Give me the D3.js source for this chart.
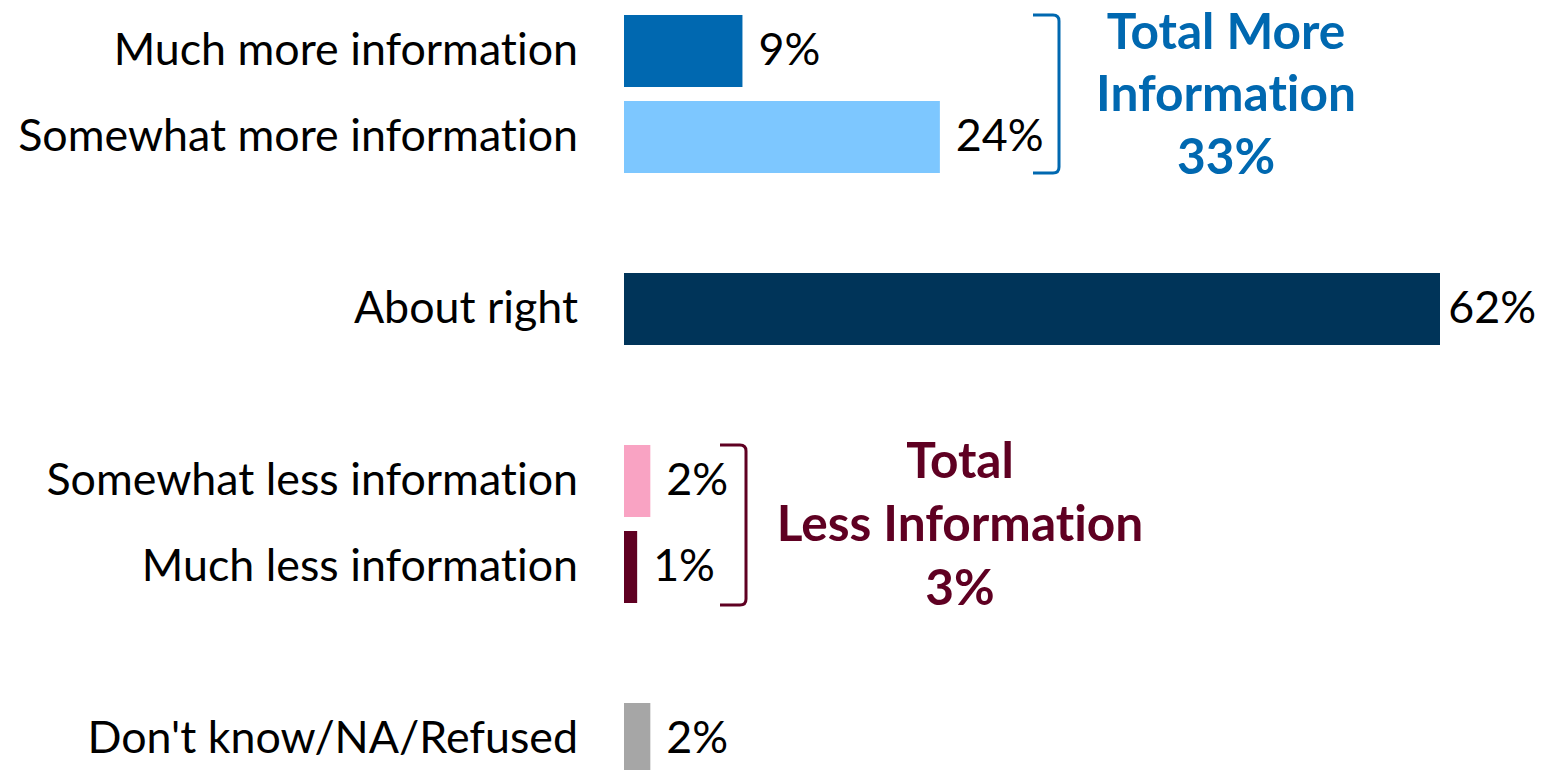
<!DOCTYPE html>
<html>
<head>
  <meta charset="utf-8">
  <script src="https://d3js.org/d3.v7.min.js"></script>
  <style type="text/css">
body { margin: 0; background: #fff; }
svg { display: block; }
text { font-variant-ligatures: none; font-feature-settings: "liga" 0; }
.label { font-family: Lato, "Open Sans", sans-serif; fill: #000; }
.total { font-family: Lato, "Open Sans", sans-serif; font-weight: bold; text-anchor: middle; }
  </style>
</head>
<body>
<script type="text/javascript">
// categories top to bottom, grouped (blank row between groups)
var categories = ["Much more information", "Somewhat more information", "About right",
                  "Somewhat less information", "Much less information", "Don't know/NA/Refused"];
var values = [9, 24, 62, 2, 1, 2];
var barColors = ["#0068b0", "#7dc7ff", "#003459", "#f9a3c3", "#5f0022", "#a6a6a6"];
var groups = [[0, 1], [2], [3, 4], [5]];

var totalMoreLines = ["Total More", "Information", "33%"];
var totalLessLines = ["Total", "Less Information", "3%"];
var blueText = "#0068b0", maroonText = "#5f0022";

var width = 1542, height = 770;

var svg = d3.select("body").append("svg")
  .attr("width", width)
  .attr("height", height);

// build row keys with spacer rows between groups
var rows = [];
groups.forEach(function(g, gi) {
  if (gi > 0) rows.push("gap" + gi);
  g.forEach(function(i) { rows.push(categories[i]); });
});

var y = d3.scaleBand()
  .domain(rows)
  .range([8, 782])
  .paddingInner(0.1628)
  .paddingOuter(0.0814);

var x = d3.scaleLinear()
  .domain([0, d3.max(values)])
  .range([624, 1440]);

var data = categories.map(function(c, i) { return {name: c, value: values[i], color: barColors[i]}; });

svg.selectAll(".bar")
  .data(data)
  .enter().append("rect")
  .attr("class", "bar")
  .attr("x", x(0))
  .attr("y", function(d) { return y(d.name); })
  .attr("width", function(d) { return x(d.value) - x(0); })
  .attr("height", y.bandwidth())
  .style("fill", function(d) { return d.color; });

// fit font size to the reference's label width
var probe = svg.append("text").attr("class", "label").style("font-size", "40px").text("Somewhat more information");
var labelSize = 40 * 560 / probe.node().getComputedTextLength();
probe.remove();

svg.selectAll(".cat")
  .data(data)
  .enter().append("text")
  .attr("class", "label cat")
  .attr("x", 578)
  .attr("y", function(d) { return y(d.name) + y.bandwidth() / 2 + 14; })
  .attr("text-anchor", "end")
  .style("font-size", labelSize + "px")
  .text(function(d) { return d.name; });

svg.selectAll(".val")
  .data(data)
  .enter().append("text")
  .attr("class", "label val")
  .attr("y", function(d) { return y(d.name) + y.bandwidth() / 2 + 14; })
  .style("font-size", labelSize + "px")
  .text(function(d) { return d.value + "%"; })
  .attr("x", function(d) {
    var w = this.getComputedTextLength();
    return Math.min(x(d.value) + 16, width - 6 - w);
  });

// brackets
function bracket(xr, top, bottom, color) {
  var r = 6, w = 26;
  svg.append("path")
    .attr("d", "M" + (xr - w) + "," + top + "H" + (xr - r) + "Q" + xr + "," + top + " " + xr + "," + (top + r) +
               "V" + (bottom - r) + "Q" + xr + "," + bottom + " " + (xr - r) + "," + bottom + "H" + (xr - w))
    .attr("fill", "none")
    .attr("stroke", color)
    .attr("stroke-width", 3);
}
bracket(1059, y(categories[0]), y(categories[1]) + y.bandwidth(), blueText);
bracket(746, y(categories[3]), y(categories[4]) + y.bandwidth() + 2, maroonText);

var probe2 = svg.append("text").attr("class", "total").style("font-size", "40px").text("Information");
var totalSize = 40 * 260 / probe2.node().getComputedTextLength();
probe2.remove();

function totalBlock(lines, cx, baselines, color) {
  svg.selectAll(null)
    .data(lines)
    .enter().append("text")
    .attr("class", "total")
    .attr("x", cx)
    .attr("y", function(d, i) { return baselines[i]; })
    .style("font-size", totalSize + "px")
    .style("fill", color)
    .text(function(d) { return d; });
}
totalBlock(totalMoreLines, 1226, [49, 111, 174], blueText);
totalBlock(totalLessLines, 960, [478, 541, 605], maroonText);
</script>
</body>
</html>
